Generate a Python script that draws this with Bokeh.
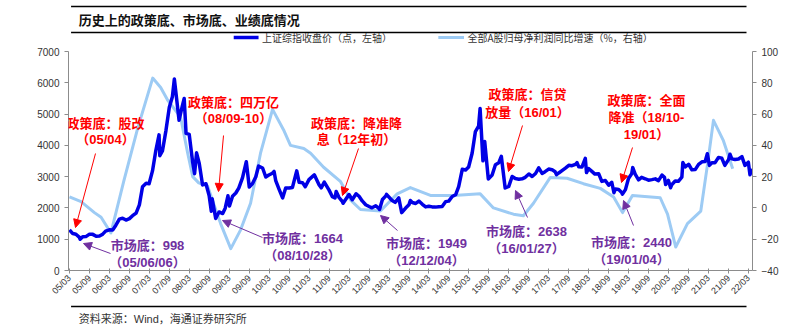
import math
from datetime import datetime
import pandas as pd
from bokeh.plotting import figure
from bokeh.layouts import column
from bokeh.models import (Range1d, LinearAxis, FixedTicker, Label, Arrow, NormalHead,
                          DatetimeTickFormatter, ColumnDataSource)
from bokeh.core.properties import value
from bokeh.embed import file_html
from bokeh.resources import INLINE

# ---------------- data ----------------
idx_dates = [
    "2005-03-01", "2005-03-31", "2005-04-29", "2005-05-31", "2005-06-06", "2005-06-30", "2005-07-29", "2005-08-31",
    "2005-09-30", "2005-10-31", "2005-11-30", "2005-12-30",
    "2006-01-25", "2006-02-28", "2006-03-31", "2006-04-28", "2006-05-31", "2006-06-30", "2006-07-31", "2006-08-31",
    "2006-09-29", "2006-10-31", "2006-11-30", "2006-12-29",
    "2007-01-31", "2007-02-27", "2007-03-30", "2007-04-30", "2007-05-29", "2007-06-05", "2007-06-29", "2007-07-31",
    "2007-08-31", "2007-09-28", "2007-10-16", "2007-11-28", "2007-12-28",
    "2008-01-14", "2008-01-31", "2008-02-29", "2008-03-31", "2008-04-18", "2008-05-06", "2008-05-30", "2008-06-30",
    "2008-07-31", "2008-08-29", "2008-09-18", "2008-09-26", "2008-10-28", "2008-11-28", "2008-12-31",
    "2009-01-23", "2009-02-17", "2009-03-03", "2009-03-31", "2009-04-30", "2009-05-27", "2009-06-30", "2009-08-04",
    "2009-08-31", "2009-09-30", "2009-10-30", "2009-11-24", "2009-12-31",
    "2010-01-29", "2010-02-26", "2010-03-31", "2010-04-15", "2010-04-30", "2010-05-31", "2010-07-02", "2010-07-30",
    "2010-08-31", "2010-09-30", "2010-11-08", "2010-11-30", "2010-12-31",
    "2011-01-25", "2011-02-28", "2011-04-18", "2011-05-31", "2011-06-20", "2011-07-18", "2011-08-31", "2011-09-30",
    "2011-10-24", "2011-11-04", "2011-11-30", "2011-12-31",
    "2012-01-06", "2012-02-29", "2012-03-30", "2012-05-04", "2012-05-31", "2012-06-29", "2012-07-31", "2012-08-31",
    "2012-09-26", "2012-10-31", "2012-11-30", "2012-12-04", "2012-12-31",
    "2013-01-31", "2013-02-06", "2013-03-29", "2013-04-26", "2013-05-29", "2013-06-25", "2013-07-31", "2013-08-30",
    "2013-09-12", "2013-09-30", "2013-10-31", "2013-11-29", "2013-12-31",
    "2014-01-30", "2014-02-28", "2014-03-31", "2014-04-30", "2014-05-30", "2014-06-30", "2014-07-31", "2014-08-29",
    "2014-09-30", "2014-10-31", "2014-11-28", "2014-12-31",
    "2015-01-30", "2015-02-27", "2015-03-31", "2015-04-30", "2015-05-29", "2015-06-12", "2015-07-08", "2015-07-24",
    "2015-08-26", "2015-09-30", "2015-10-30", "2015-11-30", "2015-12-23",
    "2016-01-27", "2016-02-29", "2016-03-31", "2016-04-29", "2016-05-31", "2016-06-30", "2016-07-29", "2016-08-31",
    "2016-09-30", "2016-10-31", "2016-11-29", "2016-12-30",
    "2017-01-26", "2017-02-28", "2017-03-31", "2017-04-28", "2017-05-11", "2017-05-31", "2017-06-30", "2017-07-31",
    "2017-08-31", "2017-09-29", "2017-10-31", "2017-11-14", "2017-11-30", "2017-12-29",
    "2018-01-29", "2018-02-09", "2018-02-28", "2018-03-30", "2018-04-27", "2018-05-31", "2018-06-29", "2018-07-31",
    "2018-08-31", "2018-09-28", "2018-10-18", "2018-10-31", "2018-11-30", "2018-12-28",
    "2019-01-04", "2019-01-31", "2019-02-28", "2019-03-29", "2019-04-08", "2019-04-30", "2019-05-31", "2019-06-28",
    "2019-07-31", "2019-08-30", "2019-09-30", "2019-10-31", "2019-11-29", "2019-12-31",
    "2020-01-23", "2020-02-03", "2020-02-28", "2020-03-19", "2020-03-31", "2020-04-30", "2020-05-29", "2020-06-30",
    "2020-07-09", "2020-07-31", "2020-08-31", "2020-09-30", "2020-10-30", "2020-11-30", "2020-12-31",
    "2021-01-29", "2021-02-18", "2021-03-09", "2021-03-31", "2021-04-30", "2021-05-31", "2021-06-30", "2021-07-28",
    "2021-08-31", "2021-09-13", "2021-09-30", "2021-10-29", "2021-11-30", "2021-12-31",
    "2022-01-28", "2022-02-28", "2022-03-15", "2022-03-31",
]
idx_values = [
    1300, 1181, 1159, 1060, 998, 1080, 1083, 1162, 1155, 1092, 1099, 1161,
    1258, 1299, 1298, 1440, 1641, 1672, 1612, 1658, 1752, 1837, 2099, 2675,
    2786, 2771, 3183, 3841, 4335, 3670, 3821, 4471, 5218, 5552, 6124, 4803, 5262,
    5497, 4383, 4348, 3473, 3094, 3761, 3433, 2736, 2775, 2397, 1895, 2293, 1664, 1871, 1821,
    1991, 2389, 2061, 2373, 2477, 2633, 2959, 3478, 2668, 2779, 2996, 3338, 3277,
    2989, 3051, 3110, 3166, 2871, 2592, 2319, 2638, 2639, 2656, 3186, 2820, 2808,
    2677, 2905, 3057, 2743, 2642, 2826, 2568, 2359, 2317, 2528, 2333, 2199,
    2148, 2428, 2262, 2452, 2373, 2225, 2103, 2047, 2004, 2069, 1980, 1949, 2269,
    2385, 2432, 2237, 2178, 2324, 1849, 1994, 2098, 2237, 2175, 2142, 2220, 2116,
    2033, 2056, 2033, 2026, 2039, 2048, 2201, 2217, 2364, 2420, 2683, 3235,
    3210, 3310, 3748, 4442, 4612, 5178, 3507, 4124, 2927, 3053, 3383, 3445, 3651,
    2638, 2688, 3004, 2938, 2917, 2930, 2979, 3085, 3005, 3100, 3283, 3104,
    3159, 3242, 3223, 3155, 3062, 3117, 3192, 3273, 3361, 3349, 3393, 3447, 3317, 3307,
    3587, 3129, 3259, 3169, 3082, 3095, 2847, 2876, 2725, 2821, 2486, 2603, 2588, 2494,
    2440, 2585, 2941, 3091, 3288, 3078, 2899, 2979, 2932, 2886, 2905, 2929, 2872, 3050,
    2977, 2746, 2880, 2646, 2750, 2860, 2852, 2985, 3451, 3310, 3396, 3218, 3225, 3392, 3473,
    3483, 3731, 3359, 3442, 3447, 3615, 3591, 3362, 3544, 3715, 3568, 3547, 3564, 3640,
    3361, 3462, 3063, 3253,
]

profit_dates = [
    "2005-03-01", "2005-06-15", "2005-10-15", "2005-12-15", "2006-03-15", "2006-07-10", "2006-11-15", "2007-04-01",
    "2007-06-13", "2007-08-15", "2007-12-12", "2008-02-15", "2008-04-01", "2008-05-26", "2008-08-15", "2008-10-08",
    "2008-12-12", "2009-03-15", "2009-06-13", "2009-09-12", "2009-12-12", "2010-04-01", "2010-07-10", "2010-09-12",
    "2011-01-12", "2011-03-15", "2011-07-12", "2011-12-12", "2012-03-15", "2012-06-13", "2012-12-12", "2013-05-15",
    "2013-09-12", "2014-03-15", "2014-10-12", "2015-06-13", "2015-10-12", "2016-04-12", "2016-07-12", "2016-10-12",
    "2017-03-15", "2017-08-15", "2018-01-12", "2018-06-15", "2018-10-15", "2019-01-05", "2019-04-05", "2019-12-15",
    "2020-02-20", "2020-05-05", "2020-08-20", "2020-12-20", "2021-02-20", "2021-04-15", "2021-07-15", "2021-10-08",
]
profit_values = [
    7, 4, -3, -6, -16, 17, 51, 83,
    77, 69, 58, 35, 20, 16, 14, 3,
    -10, -26, -14, 3, 35, 63, 50, 40,
    38, 35, 26, 17, 5, -1, -2, 9,
    13, 8, 8, 9, 0, -4, -5, 3,
    19.5, 19, 15.5, 12.5, 7, -3, 8, 6.5,
    -4, -25, -10, -2, 28, 56, 43, 25,
]

tick_labels = ["05/03", "05/09", "06/03", "06/09", "07/03", "07/09", "08/03", "08/09", "09/03", "09/09",
               "10/03", "10/09", "11/03", "11/09", "12/03", "12/09", "13/03", "13/09", "14/03", "14/09",
               "15/03", "15/09", "16/03", "16/09", "17/03", "17/09", "18/03", "18/09", "19/03", "19/09",
               "20/03", "20/09", "21/03", "21/09", "22/03"]
left_ticks = [0, 1000, 2000, 3000, 4000, 5000, 6000, 7000]
right_ticks = [-40, -20, 0, 20, 40, 60, 80, 100]

series_names = ["上证综指收盘价（点，左轴）", "全部A股归母净利润同比增速（%，右轴）"]
title_text = "历史上的政策底、市场底、业绩底情况"
source_text = "资料来源：Wind，海通证券研究所"

policy_notes = [["政策底：股改", "（05/04）"],
                ["政策底：四万亿", "（08/09-10）"],
                ["政策底：降准降", "息（12年初）"],
                ["政策底：信贷", "放量（16/01）"],
                ["政策底：全面", "降准（18/10-", "19/01）"]]
market_notes = [["市场底：998", "（05/06/06）"],
                ["市场底：1664", "（08/10/28）"],
                ["市场底：1949", "（12/12/04）"],
                ["市场底：2638", "（16/01/27）"],
                ["市场底：2440", "（19/01/04）"]]

# ---------------- layout (page pixel positions) ----------------
W = 799
TOP_H = 46          # header strip: title, rules, legend
MAIN_H = 258        # chart strip: page y 46..304
BOT_H = 25          # footer strip: page y 304..329
FL, FR, FT, FB = 68, 752, 51, 270   # frame edges in page pixels
LEG_Y = 37

def sx(X):
    return X - FL

def sy(Y):
    return FB - Y

policy_text_pos = [(105, [123, 139]), (233, [102, 118]), (356, [123, 139]),
                   (527, [94, 112]), (646, [100, 117, 134])]
policy_arrows = [((95, 153), (75, 227)), ((223, 135), (218, 191)), ((358, 148), (342, 195)),
                 ((522, 125), (508, 171)), ((632, 147), (621, 182))]
market_text_pos = [(147, [245, 262]), (302, [238, 255]), (426, [243, 260]),
                   (526, [231, 248]), (631, [242, 259])]
market_arrows = [((110, 253), (83, 243)), ((262, 237), (222, 220)), ((397, 230), (380, 215)),
                 ((527, 217), (515, 190)), ((633, 225), (623, 200))]

RED = "#FF0000"
PURPLE = "#7030A0"
DARK_BLUE = "#0000E6"
LIGHT_BLUE = "#9DCBF4"
AXIS_GREY = "#8C8C8C"
TXT = "#333333"
NUM_FONT = "Liberation Sans"
MIX_FONT = "Liberation Sans, Noto Sans CJK SC"
CJK_FONT = "Noto Sans CJK SC"
IDX_W, PRO_W = 3.5, 3


def strip(height, y_top):
    f = figure(width=W, height=height, output_backend="svg", toolbar_location=None,
               x_range=Range1d(0, W), y_range=Range1d(y_top + height, y_top),
               x_axis_location=None, y_axis_location=None, min_border=0)
    f.outline_line_color = None
    f.xgrid.visible = False
    f.ygrid.visible = False
    return f


# ---------------- header ----------------
top = strip(TOP_H, 0)
top.segment(x0=[3, 3], y0=[6, 32], x1=[792, 792], y1=[6, 32], line_color="black", line_width=1.5)
top.text(x=[12], y=[19], text=[title_text], text_font=value(CJK_FONT), text_font_style="bold",
         text_font_size="13px", text_color="#111111", text_align="left", text_baseline="middle")
# legend
top.segment(x0=[193], y0=[LEG_Y], x1=[222], y1=[LEG_Y], line_color=DARK_BLUE, line_width=IDX_W)
top.text(x=[226], y=[LEG_Y], text=[series_names[0]], text_font=value(CJK_FONT), text_font_size="10px",
         text_color=TXT, text_align="left", text_baseline="middle")
top.segment(x0=[432], y0=[LEG_Y], x1=[462], y1=[LEG_Y], line_color=LIGHT_BLUE, line_width=PRO_W)
top.text(x=[466], y=[LEG_Y], text=[series_names[1]], text_font=value(CJK_FONT), text_font_size="10px",
         text_color=TXT, text_align="left", text_baseline="middle")

# ---------------- main chart ----------------
p = figure(width=W, height=MAIN_H, output_backend="svg", toolbar_location=None,
           x_axis_type="datetime",
           x_range=Range1d(datetime(2005, 2, 20), datetime(2022, 4, 7)),
           y_range=Range1d(0, 7000),
           min_border_left=FL, min_border_right=W - FR,
           min_border_top=FT - TOP_H, min_border_bottom=TOP_H + MAIN_H - FB)
p.extra_y_ranges = {"r": Range1d(-40, 100)}
p.outline_line_color = None
p.xgrid.visible = False
p.ygrid.visible = False

src_idx = ColumnDataSource(dict(x=pd.to_datetime(idx_dates), y=idx_values))
src_pro = ColumnDataSource(dict(x=pd.to_datetime(profit_dates), y=profit_values))

p.line("x", "y", source=src_pro, line_color=LIGHT_BLUE, line_width=PRO_W, line_join="round",
       y_range_name="r")
p.line("x", "y", source=src_idx, line_color=DARK_BLUE, line_width=IDX_W, line_join="round")

tick_ms = [pd.Timestamp("20" + t.replace("/", "-") + "-01").timestamp() * 1000 for t in tick_labels]
xa = p.xaxis[0]
xa.ticker = FixedTicker(ticks=tick_ms)
fmt = "%y/%m"
xa.formatter = DatetimeTickFormatter(microseconds=fmt, milliseconds=fmt, seconds=fmt, minsec=fmt,
                                     minutes=fmt, hourmin=fmt, hours=fmt, days=fmt, months=fmt, years=fmt)
xa.major_label_orientation = math.pi / 4
xa.major_tick_in = 2
xa.major_tick_out = 3
xa.minor_tick_line_color = None

ya = p.yaxis[0]
ya.ticker = FixedTicker(ticks=left_ticks)
ya.major_tick_in = 0
ya.major_tick_out = 4
ya.minor_tick_line_color = None

ra = LinearAxis(y_range_name="r", ticker=FixedTicker(ticks=right_ticks))
ra.major_tick_in = 0
ra.major_tick_out = 4
ra.minor_tick_line_color = None
p.add_layout(ra, "right")

for ax in [xa, ya, ra]:
    ax.axis_line_color = AXIS_GREY
    ax.major_tick_line_color = AXIS_GREY
    ax.major_label_text_font = NUM_FONT
    ax.major_label_text_color = TXT
    ax.major_label_text_font_size = "10px"
    ax.major_label_standoff = 5
xa.major_label_text_font_size = "9px"
xa.major_label_standoff = 3


def add_note(lines, pos, arrow, color):
    cx, ys = pos
    for t, yy in zip(lines, ys):
        p.add_layout(Label(x=sx(cx), y=sy(yy), x_units="screen", y_units="screen", text=t,
                           text_font=MIX_FONT, text_font_style="bold", text_font_size="13px",
                           text_color=color, text_align="center", text_baseline="middle"))
    (x0, y0), (x1, y1) = arrow
    p.add_layout(Arrow(end=NormalHead(size=8, fill_color=color, line_color=color, line_width=1),
                       x_start=sx(x0), y_start=sy(y0), x_end=sx(x1), y_end=sy(y1),
                       start_units="screen", end_units="screen", line_color=color, line_width=1))


for lines, pos, arr in zip(policy_notes, policy_text_pos, policy_arrows):
    add_note(lines, pos, arr, RED)
for lines, pos, arr in zip(market_notes, market_text_pos, market_arrows):
    add_note(lines, pos, arr, PURPLE)

# ---------------- footer ----------------
bot = strip(BOT_H, TOP_H + MAIN_H)
bot.segment(x0=[3], y0=[306], x1=[792], y1=[306], line_color="black", line_width=1.5)
bot.text(x=[12], y=[318], text=[source_text], text_font=value(MIX_FONT), text_font_size="11px",
         text_color=TXT, text_align="left", text_baseline="middle")

layout = column(top, p, bot, spacing=0)
open("out.html", "w").write(file_html(layout, INLINE))
